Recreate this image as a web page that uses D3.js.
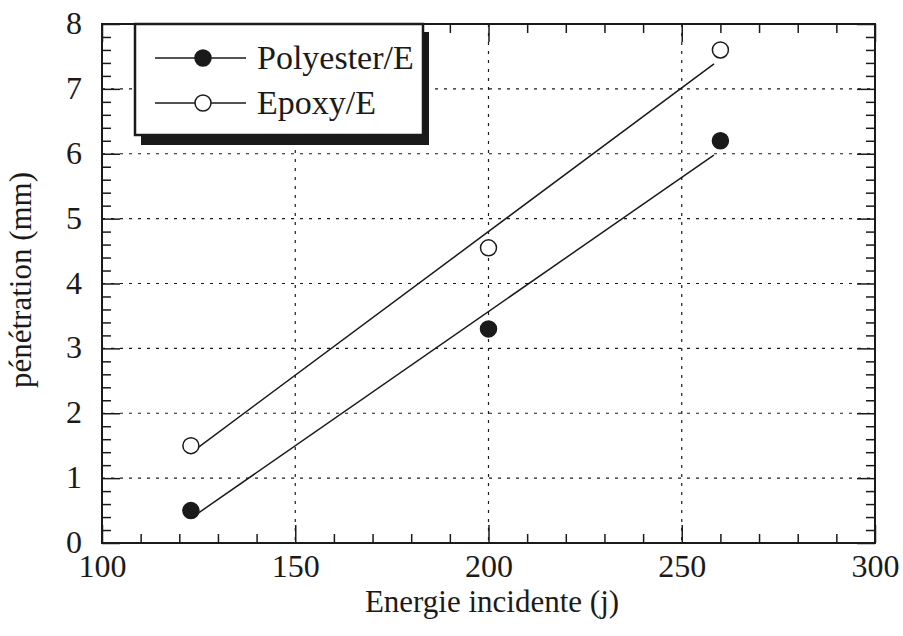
<!DOCTYPE html>
<html><head><meta charset="utf-8">
<script src="https://cdn.jsdelivr.net/npm/d3@7"></script>
<style>body{margin:0;background:#fff}svg{display:block}text{font-family:"Liberation Serif","Times New Roman",serif;fill:#1a1a1a}</style>
</head><body>
<svg id="c" width="903" height="636"></svg>
<script>
const energy = [123, 200, 260];
const polyester = [0.5, 3.3, 6.2];
const epoxy = [1.5, 4.55, 7.6];
const seriesNames = ["Polyester/E", "Epoxy/E"];
const xTicks = [100, 150, 200, 250, 300];
const yTicks = [0, 1, 2, 3, 4, 5, 6, 7, 8];

const svg = d3.select("#c");
const L = 102, R = 875, T = 24, B = 543;
const x = d3.scaleLinear().domain([100, 300]).range([L, R]);
const y = d3.scaleLinear().domain([0, 8]).range([B, T]);
const ink = "#1a1a1a";

// grid
const g = svg.append("g");
g.selectAll(".gx").data(xTicks.slice(1, -1)).join("line")
  .attr("x1", d => x(d)).attr("x2", d => x(d)).attr("y1", T).attr("y2", B)
  .attr("stroke", ink).attr("stroke-width", 1.2).attr("stroke-dasharray", "3,6");
g.selectAll(".gy").data(yTicks.slice(1, -1)).join("line")
  .attr("y1", d => y(d)).attr("y2", d => y(d)).attr("x1", L).attr("x2", R)
  .attr("stroke", ink).attr("stroke-width", 1.2).attr("stroke-dasharray", "3,6");

// axes with inside ticks
const xMinor = d3.range(100, 301, 10);
const yMinor = d3.range(0, 8.01, 0.2);
function addX(yPos, dir) {
  const ax = d3.axisBottom(x).tickValues(xMinor).tickSize(0).tickFormat("");
  const gg = svg.append("g").attr("transform", `translate(0,${yPos})`).call(ax);
  gg.select(".domain").remove();
  gg.selectAll(".tick line").remove();
  gg.selectAll(".tick").append("line")
    .attr("y2", d => dir * (d % 50 === 0 ? 18 : 9))
    .attr("stroke", ink).attr("stroke-width", 1.5);
}
function addY(xPos, dir) {
  const ax = d3.axisLeft(y).tickValues(yMinor).tickSize(0).tickFormat("");
  const gg = svg.append("g").attr("transform", `translate(${xPos},0)`).call(ax);
  gg.select(".domain").remove();
  gg.selectAll(".tick line").remove();
  gg.selectAll(".tick").append("line")
    .attr("x2", d => dir * (Math.abs(d - Math.round(d)) < 1e-6 ? 18 : 9))
    .attr("stroke", ink).attr("stroke-width", 1.5);
}
addX(B, -1); addX(T, 1); addY(L, 1); addY(R, -1);
svg.append("rect").attr("x", L).attr("y", T).attr("width", R - L).attr("height", B - T)
  .attr("fill", "none").attr("stroke", ink).attr("stroke-width", 2);

// tick labels
const xa = d3.axisBottom(x).tickValues(xTicks).tickSize(0).tickPadding(8);
const xg = svg.append("g").attr("transform", `translate(0,${B})`).call(xa);
xg.select(".domain").remove();
xg.selectAll("text").style("font-size", "32px").attr("fill", ink).attr("dy", "0.8em");
const ya = d3.axisLeft(y).tickValues(yTicks).tickSize(0).tickPadding(20);
const yg = svg.append("g").attr("transform", `translate(${L},0)`).call(ya);
yg.select(".domain").remove();
yg.selectAll("text").style("font-size", "32px").attr("fill", ink).attr("dy", "0.3em");

// axis titles
svg.append("text").attr("x", 492).attr("y", 612).attr("text-anchor", "middle")
  .style("font-size", "31px").text("Energie incidente (j)");
svg.append("text").attr("transform", "translate(31,280) rotate(-90)").attr("text-anchor", "middle")
  .style("font-size", "31px").text("pénétration (mm)");

// fit lines (least squares)
function fit(xs, ys) {
  const mx = d3.mean(xs), my = d3.mean(ys);
  const s = d3.sum(xs, (v, i) => (v - mx) * (ys[i] - my)) / d3.sum(xs, v => (v - mx) ** 2);
  return v => my + s * (v - mx);
}
const series = [
  { name: seriesNames[0], vals: polyester, fill: ink },
  { name: seriesNames[1], vals: epoxy, fill: "#fff" }
];
const r = 8;
series.forEach(s => {
  const f = fit(energy, s.vals);
  const x0 = energy[0], x1 = energy[energy.length - 1];
  const p0 = [x(x0), y(f(x0))], p1 = [x(x1), y(f(x1))];
  const len = Math.hypot(p1[0] - p0[0], p1[1] - p0[1]);
  const ux = (p1[0] - p0[0]) / len, uy = (p1[1] - p0[1]) / len;
  svg.append("line").attr("x1", p0[0] + ux * r).attr("y1", p0[1] + uy * r)
    .attr("x2", p1[0] - ux * r).attr("y2", p1[1] - uy * r)
    .attr("stroke", ink).attr("stroke-width", 1.5);
  svg.selectAll(null).data(energy).join("circle")
    .attr("cx", d => x(d)).attr("cy", (d, i) => y(s.vals[i])).attr("r", r)
    .attr("fill", s.fill).attr("stroke", ink).attr("stroke-width", 1.5);
});

// legend
const lg = svg.append("g");
lg.append("rect").attr("x", 141).attr("y", 32).attr("width", 288).attr("height", 113).attr("fill", ink);
lg.append("rect").attr("x", 135).attr("y", 24).attr("width", 288).attr("height", 111)
  .attr("fill", "#fff").attr("stroke", ink).attr("stroke-width", 2.5);
series.forEach((s, i) => {
  const ly = 58 + i * 45;
  lg.append("line").attr("x1", 155).attr("x2", 246).attr("y1", ly).attr("y2", ly)
    .attr("stroke", ink).attr("stroke-width", 1.5);
  lg.append("circle").attr("cx", 203).attr("cy", ly).attr("r", r)
    .attr("fill", s.fill).attr("stroke", ink).attr("stroke-width", 1.5);
  lg.append("text").attr("x", 257).attr("y", ly + 11).style("font-size", "34px").text(s.name);
});
</script>
</body></html>
